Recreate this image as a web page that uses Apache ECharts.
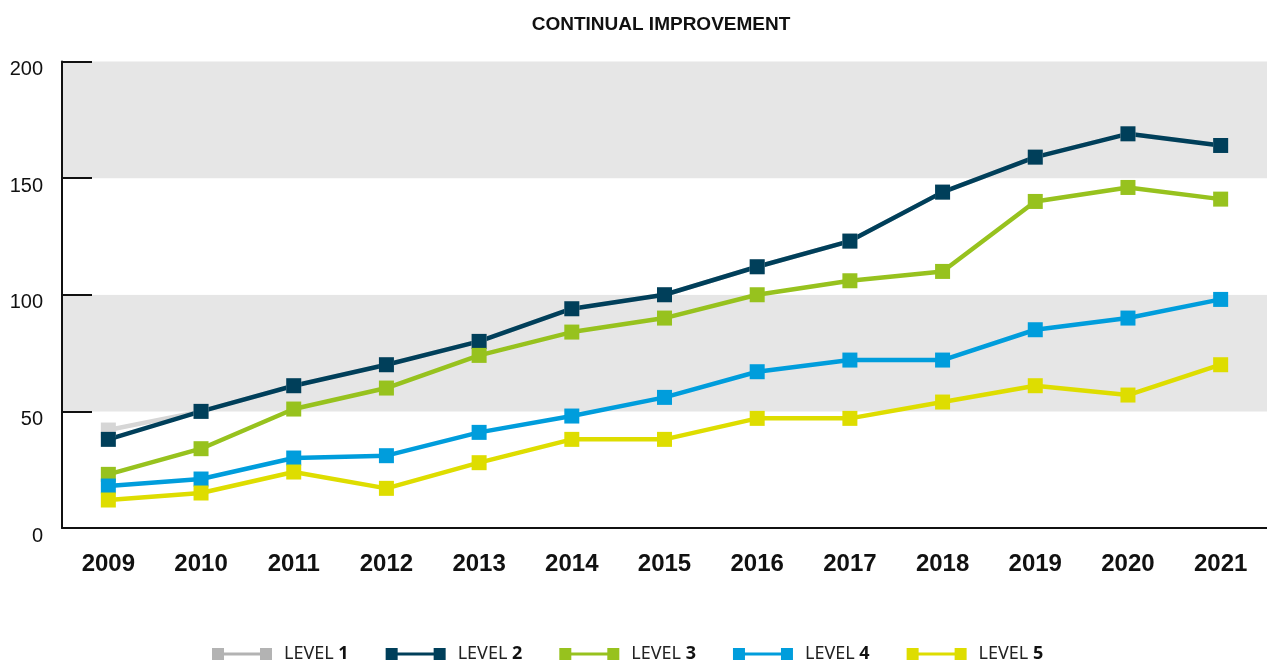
<!DOCTYPE html>
<html>
<head>
<meta charset="utf-8">
<title>Continual Improvement</title>
<script src="https://cdn.jsdelivr.net/npm/echarts@6/dist/echarts.min.js"></script>
<style>
  html, body { margin: 0; padding: 0; background: #fff; }
  #chart { width: 1267px; height: 666px; }
</style>
</head>
<body>
<div id="chart"></div>
<script>
"use strict";

var years = ["2009", "2010", "2011", "2012", "2013", "2014", "2015", "2016", "2017", "2018", "2019", "2020", "2021"];
var level1 = [42, 50, 61, 70, 80, 94, 100, 112, 123, 144, 159, 169, 164];
var level2 = [38, 50, 61, 70, 80, 94, 100, 112, 123, 144, 159, 169, 164];
var level3 = [23, 34, 51, 60, 74, 84, 90, 100, 106, 110, 140, 146, 141];
var level4 = [18, 21, 30, 31, 41, 48, 56, 67, 72, 72, 85, 90, 98];
var level5 = [12, 15, 24, 17, 28, 38, 38, 47, 47, 54, 61, 57, 70];
var levelNames = ["LEVEL 1", "LEVEL 2", "LEVEL 3", "LEVEL 4", "LEVEL 5"];
var lineColors = ["#d6d6d6", "#003f5a", "#97c21e", "#009ddc", "#dedd00"];
var legendColors = ["#b3b3b3", "#003f5a", "#97c21e", "#009ddc", "#dedd00"];

var labelFont = "'Liberation Sans', Arial, sans-serif";

var chart = echarts.init(document.getElementById("chart"));

function makeSeries(i, values) {
  return {
    name: levelNames[i],
    type: "line",
    data: values,
    symbol: "rect",
    symbolSize: 15,
    color: lineColors[i],
    lineStyle: { width: 4.5, color: lineColors[i] },
    itemStyle: { color: lineColors[i] },
    emphasis: { disabled: true },
  };
}

chart.setOption({
  animation: false,
  title: {
    text: "CONTINUAL IMPROVEMENT",
    left: 656,
    textAlign: "center",
    top: 10,
    textStyle: {
      fontFamily: labelFont,
      fontWeight: "bold",
      fontSize: 19,
      color: "#111",
    },
  },
  legend: {
    bottom: -2,
    left: 207,
    itemWidth: 60,
    itemHeight: 12,
    itemGap: 37,
    icon: "path://M0,0h12v12h-12z M48,0h12v12h-12z M12,4.5h36v3h-36z",
    formatter: function (name) {
      return "LEVEL {b|" + name.replace("LEVEL ", "") + "}";
    },
    textStyle: {
      fontFamily: "'Noto Sans', sans-serif",
      fontSize: 18,
      color: "#222",
      padding: [0, 0, 0, 7],
      rich: {
        b: { fontFamily: "'Noto Sans', sans-serif", fontSize: 18, fontWeight: "bold", color: "#111" },
      },
    },
    data: levelNames.map(function (n, i) {
      return { name: n, itemStyle: { color: legendColors[i] } };
    }),
  },
  grid: {
    left: 62,
    right: -2,
    top: 61.5,
    bottom: 138,
    containLabel: false,
  },
  xAxis: {
    type: "category",
    data: years,
    boundaryGap: true,
    axisLine: { lineStyle: { color: "#111", width: 2 } },
    axisTick: { inside: true, length: 11, lineStyle: { color: "#111", width: 2 } },
    axisLabel: {
      interval: 0,
      margin: 24,
      fontFamily: labelFont,
      fontWeight: "bold",
      fontSize: 24,
      lineHeight: 24,
      color: "#111",
    },
    splitLine: { show: false },
  },
  yAxis: {
    type: "value",
    min: 0,
    max: 200,
    interval: 50,
    axisLine: { show: true, lineStyle: { color: "#111", width: 2 } },
    axisTick: { show: true, inside: true, length: 30, lineStyle: { color: "#111", width: 2 } },
    axisLabel: {
      margin: 19,
      fontFamily: labelFont,
      fontSize: 20,
      color: "#111",
      verticalAlign: "top",
      lineHeight: 16,
    },
    splitLine: { show: false },
    splitArea: {
      show: true,
      areaStyle: { color: ["#ffffff", "#e6e6e6"] },
    },
  },
  series: [
    makeSeries(0, level1),
    makeSeries(1, level2),
    makeSeries(2, level3),
    makeSeries(3, level4),
    makeSeries(4, level5),
  ],
});
</script>
</body>
</html>
